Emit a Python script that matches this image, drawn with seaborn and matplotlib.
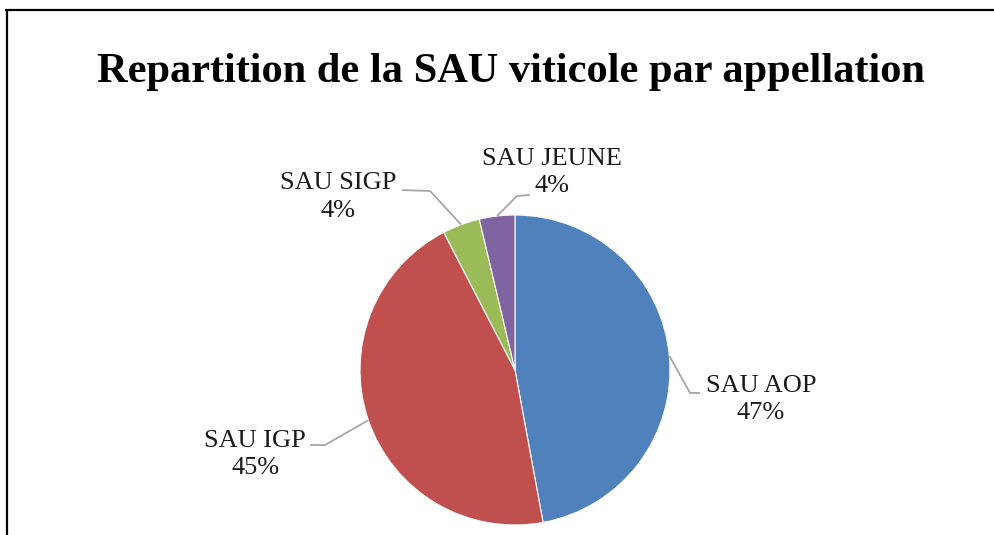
import numpy as np
import matplotlib
matplotlib.use("Agg")
import matplotlib.pyplot as plt
from matplotlib.lines import Line2D
import seaborn as sns

# ---- data ----
categories = ["SAU AOP", "SAU IGP", "SAU SIGP", "SAU JEUNE"]
shares = [47.1, 45.3, 3.9, 3.7]
title = "Repartition de la SAU viticole par appellation"

sns.set_theme(style="white")
plt.rcParams["font.family"] = ["Liberation Serif", "DejaVu Serif"]

colors = sns.color_palette(["#4F81BD", "#C0504D", "#9BBB59", "#8064A2"])

W, H = 995, 535
fig = plt.figure(figsize=(W / 100, H / 100), dpi=100)
fig.patch.set_facecolor("white")

# pie axes: center (515, 370) px, radius 155 px
cx, cy, r = 515, 370, 155
ax = fig.add_axes([(cx - r) / W, (H - cy - r) / H, 2 * r / W, 2 * r / H])

wedges, _ = ax.pie(shares, colors=colors, startangle=90, counterclock=False,
                   radius=1.0, wedgeprops=dict(edgecolor="white", linewidth=0.8))
ax.set_xlim(-1, 1)
ax.set_ylim(-1, 1)
ax.set_aspect("equal")
ax.axis("off")

total = sum(shares)
# label layout: (text center, elbow, line end) in data units of the pie axes
layout = {
    "SAU AOP": ((1.587, -0.19), (1.129, -0.148), (1.194, -0.148)),
    "SAU IGP": ((-1.677, -0.545), (-1.226, -0.484), (-1.323, -0.484)),
    "SAU SIGP": ((-1.142, 1.116), (-0.548, 1.155), (-0.729, 1.161)),
    "SAU JEUNE": ((0.239, 1.274), (0.013, 1.123), (0.097, 1.129)),
}
for w, cat, v in zip(wedges, categories, shares):
    ang = np.deg2rad((w.theta1 + w.theta2) / 2)
    x0, y0 = np.cos(ang), np.sin(ang)
    (tx, ty), (ex, ey), (lx, ly) = layout[cat]
    ax.plot([x0, ex, lx], [y0, ey, ly], color="#A6A6A6", lw=1.3,
            clip_on=False, solid_capstyle="butt")
    ax.text(tx, ty, f"{cat}\n{round(v / total * 100):.0f}%", ha="center",
            va="center", fontsize=19, color="#1a1a1a", linespacing=1.32)

fig.text(511 / W, 1 - 72 / H, title, ha="center", va="center",
         fontsize=30.5, fontweight="bold", color="black")

# partial frame (top & left visible)
fig.add_artist(Line2D([6 / W, 1], [1 - 9.5 / H] * 2, color="black", lw=1.6,
                      transform=fig.transFigure))
fig.add_artist(Line2D([7 / W] * 2, [0, 1 - 9.5 / H], color="black", lw=1.6,
                      transform=fig.transFigure))

fig.savefig("out.png", dpi=100)
